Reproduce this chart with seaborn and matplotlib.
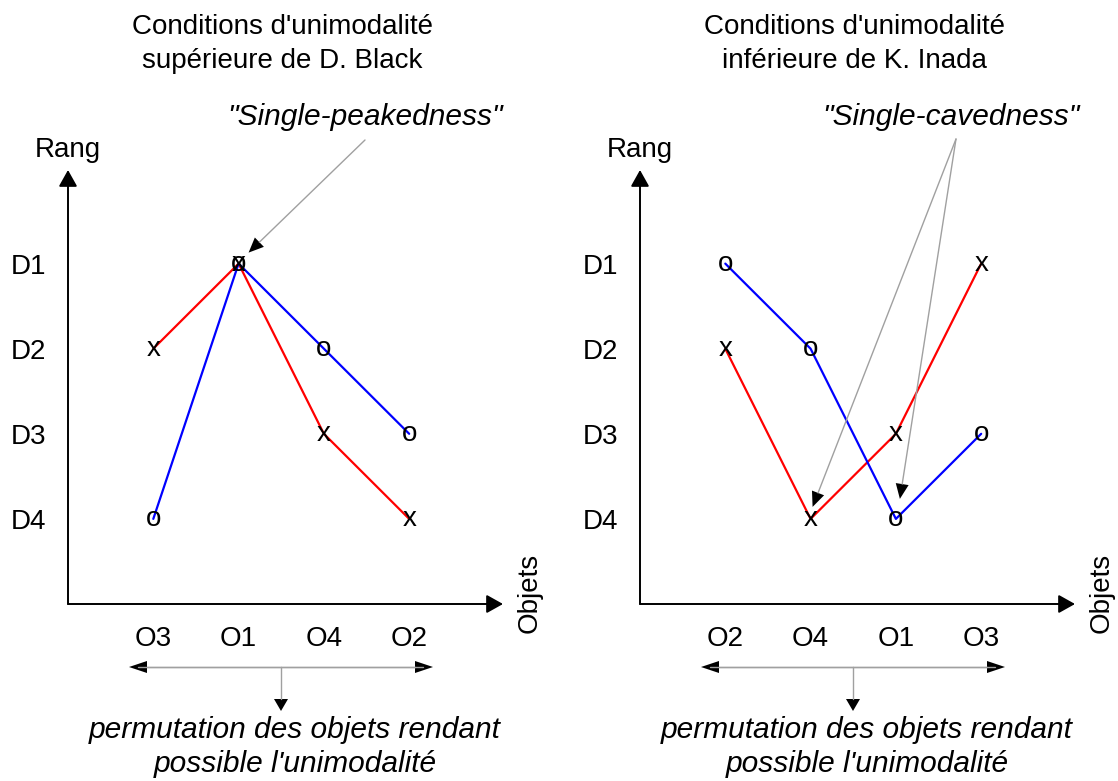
import numpy as np
import pandas as pd
import matplotlib.pyplot as plt
from matplotlib.patches import Polygon
import seaborn as sns

W, H = 1118, 781

rank_labels = ["D1", "D2", "D3", "D4"]
rank_values = [1, 2, 3, 4]

# left panel: Black (single-peaked)
black_objects = ["O3", "O1", "O4", "O2"]
black_x_ranks = [2, 1, 3, 4]
black_o_ranks = [4, 1, 2, 3]

# right panel: Inada (single-caved)
inada_objects = ["O2", "O4", "O1", "O3"]
inada_x_ranks = [2, 4, 3, 1]
inada_o_ranks = [1, 2, 4, 3]

titles = ["Conditions d'unimodalité\nsupérieure de D. Black",
          "Conditions d'unimodalité\ninférieure de K. Inada"]
notes = ['"Single-peakedness"', '"Single-cavedness"']
perm_text = "permutation des objets rendant\npossible l'unimodalité"

sns.set_style("white")
plt.rcParams['font.family'] = ['Liberation Sans', 'DejaVu Sans']
plt.rcParams['font.size'] = 20
plt.rcParams['text.color'] = 'black'
plt.rcParams['xtick.labelcolor'] = 'black'
plt.rcParams['ytick.labelcolor'] = 'black'

fig = plt.figure(figsize=(W / 100, H / 100), dpi=100)

GRAY = "#a0a0a0"


def px_rect(x0, y0, x1, y1):
    return [x0 / W, 1 - y1 / H, (x1 - x0) / W, (y1 - y0) / H]


def panel(left, objects, x_ranks, o_ranks):
    ax = fig.add_axes(px_rect(left, 170, left + 435, 604))
    pos = np.arange(len(objects))
    df = pd.DataFrame({
        "pos": np.concatenate([pos, pos]),
        "rank": x_ranks + o_ranks,
        "mark": ["x"] * len(pos) + ["o"] * len(pos),
    })
    sns.lineplot(data=df, x="pos", y="rank", hue="mark",
                 palette={"x": "#ff0000", "o": "#0000ff"},
                 estimator=None, sort=False, linewidth=1.6,
                 legend=False, ax=ax)
    for p, r in zip(pos, x_ranks):
        ax.text(p, r, "x", ha="center", va="center", fontsize=20)
    for p, r in zip(pos, o_ranks):
        ax.text(p, r, "o", ha="center", va="center", fontsize=20)

    ax.set_xlim(-1, 4.1)
    ax.set_ylim(5, -0.1)
    ax.set_xticks(pos, objects)
    ax.set_yticks(rank_values, rank_labels)
    ax.set(xlabel=None, ylabel=None)
    for s in ax.spines.values():
        s.set_visible(False)
    ax.tick_params(direction="inout", length=14, width=0.8, color="#444444",
                   pad=9, labelsize=20)
    ax.patch.set_alpha(0)
    head = dict(arrowstyle="-|>,head_length=0.5,head_width=0.28",
                color="black", lw=1.4, shrinkA=0, shrinkB=0, mutation_scale=20)
    ax.annotate("", xy=(1, 0), xytext=(0, 0), xycoords="axes fraction",
                arrowprops=head)
    ax.annotate("", xy=(0, 1), xytext=(0, 0), xycoords="axes fraction",
                arrowprops=head)
    return ax


ax1 = panel(68, black_objects, black_x_ranks, black_o_ranks)
ax2 = panel(640, inada_objects, inada_x_ranks, inada_o_ranks)

# overlay in pixel coordinates for labels and annotations
ov = fig.add_axes([0, 0, 1, 1])
ov.set_xlim(0, W)
ov.set_ylim(H, 0)
ov.axis("off")


def to_px(ax, x, y):
    d = ax.transData.transform((x, y))
    return np.array([d[0], H - d[1]])


def gray_arrow(start, tip, length=15, width=13):
    start = np.asarray(start, float)
    tip = np.asarray(tip, float)
    d = tip - start
    d /= np.hypot(*d)
    n = np.array([-d[1], d[0]])
    base = tip - d * length
    ov.plot([start[0], base[0]], [start[1], base[1]], color=GRAY, lw=1.0)
    ov.add_patch(Polygon([tip, base + n * width / 2, base - n * width / 2],
                         closed=True, color="black", lw=0))


for left, right_tip, ax, title in [(68, 503, ax1, titles[0]),
                                   (640, 1075, ax2, titles[1])]:
    ov.text(left + 214, 44, title, ha="center", va="center",
            linespacing=1.4, fontsize=20)
    ov.text(left, 150, "Rang", ha="center", va="center", fontsize=20)
    ov.text(right_tip + 27, 593, "Objets", ha="center", va="center",
            rotation=90, fontsize=20)
    # permutation arrows
    y = 667
    mid = left + 213
    ov.plot([left + 70, left + 355], [y, y], color=GRAY, lw=1.0)
    gray_arrow((mid, y), (left + 61, y), length=18, width=12)
    gray_arrow((mid, y), (left + 365, y), length=18, width=12)
    gray_arrow((mid, y), (mid, 711), length=12, width=14)
    ov.text(left + 227, 747, perm_text, ha="center", va="center",
            style="italic", linespacing=1.28, fontsize=21.5)

# single-peakedness
ov.text(365, 117, notes[0], ha="center", va="center", style="italic",
        fontsize=21.5)
peak = int(np.argmin(black_x_ranks))
gray_arrow((365, 140), to_px(ax1, peak, black_x_ranks[peak]) + (10, -11))

# single-cavedness
ov.text(951, 117, notes[1], ha="center", va="center", style="italic",
        fontsize=21.5)
cave_x = int(np.argmax(inada_x_ranks))
cave_o = int(np.argmax(inada_o_ranks))
gray_arrow((956, 139), to_px(ax2, cave_x, inada_x_ranks[cave_x]) + (2, -12))
gray_arrow((956, 139), to_px(ax2, cave_o, inada_o_ranks[cave_o]) + (4, -20))

plt.savefig("out.png", dpi=100)
plt.close()
